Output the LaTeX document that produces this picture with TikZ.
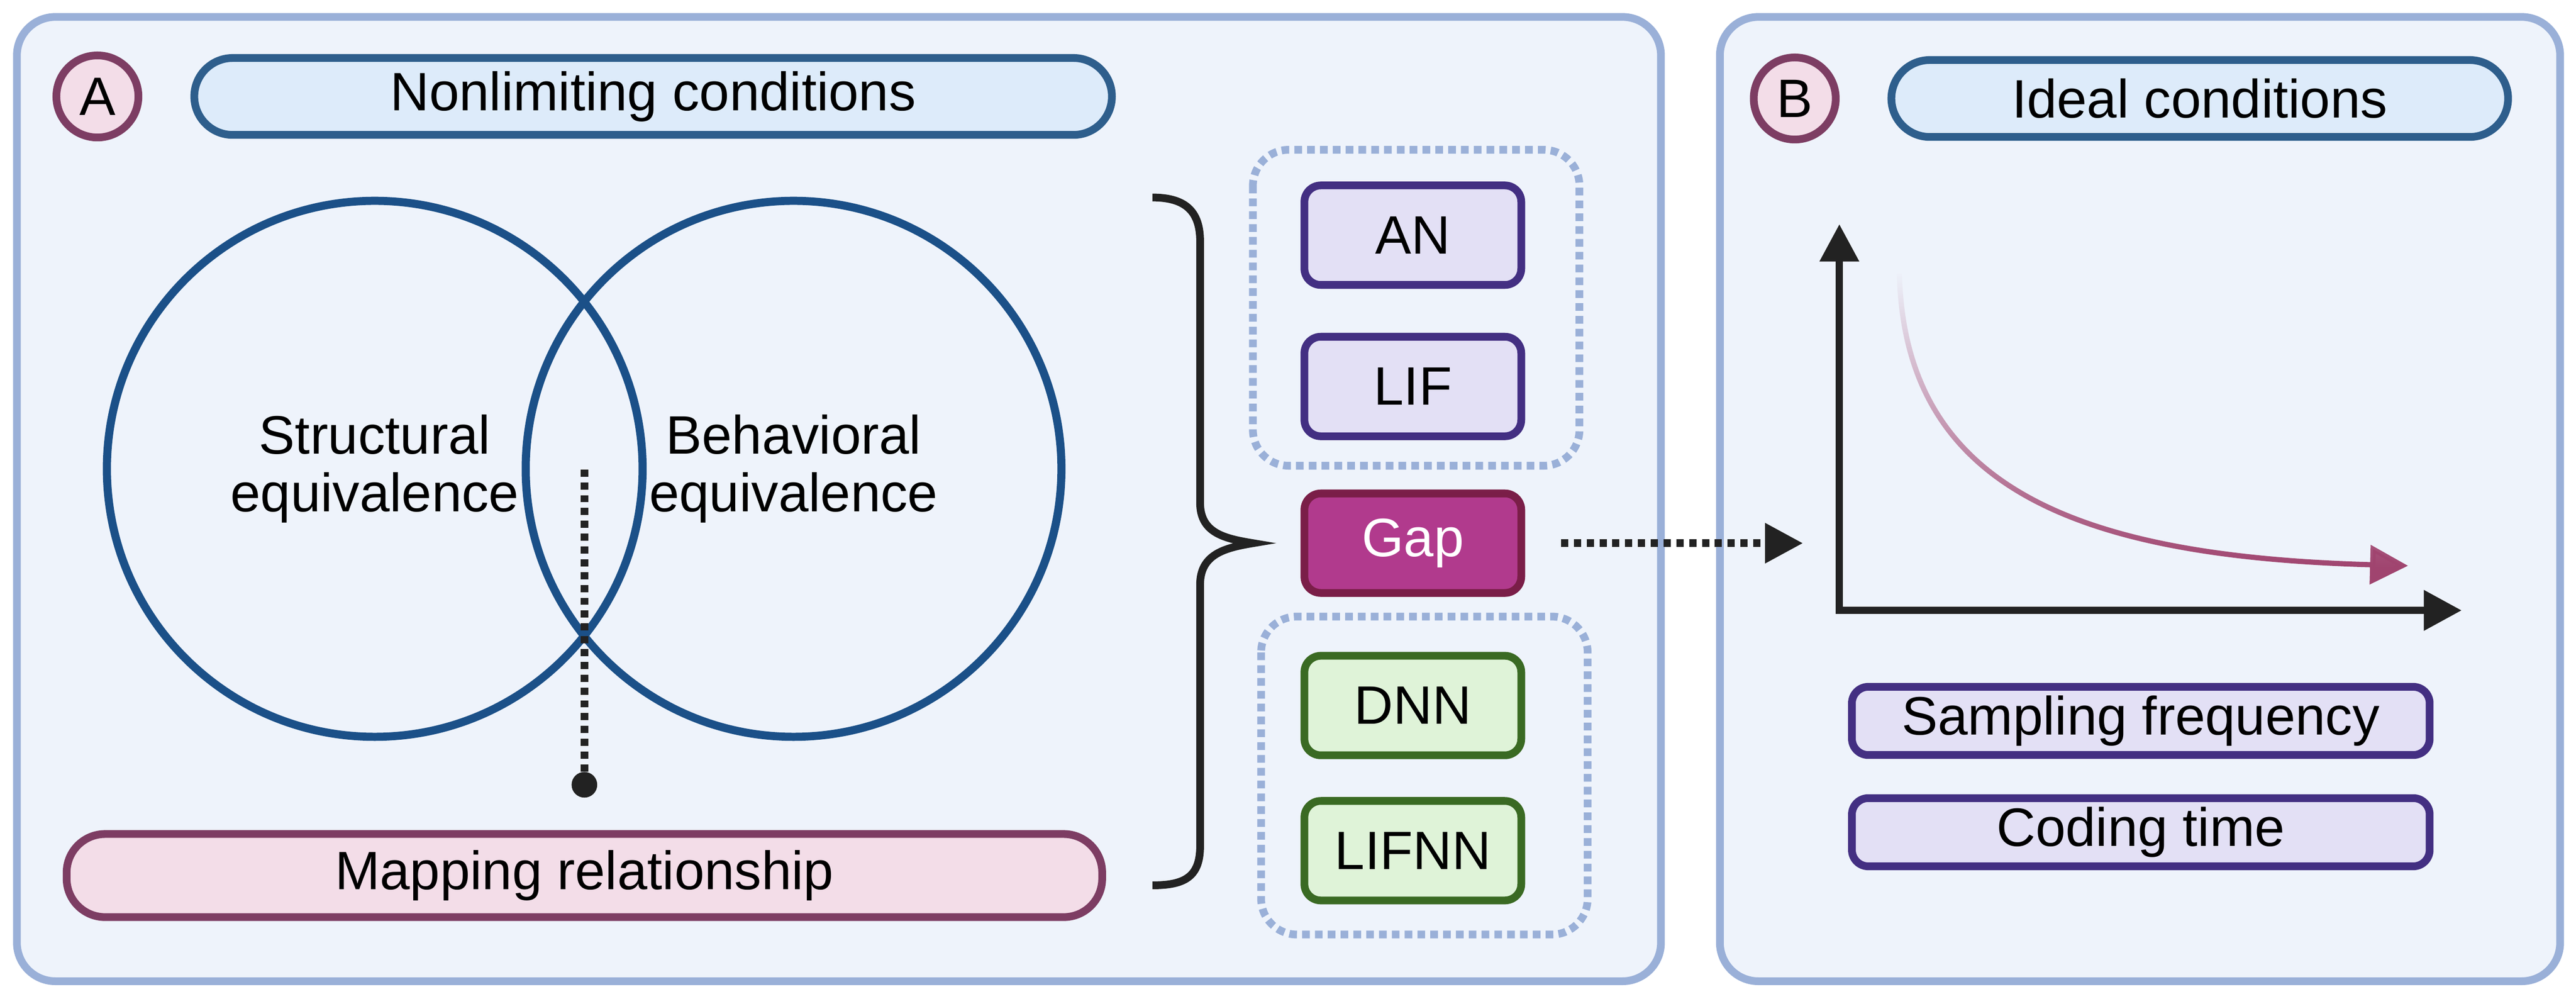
\documentclass[tikz,border=0pt]{standalone}
\usepackage{fontspec}
\setmainfont{Liberation Sans}
\usetikzlibrary{arrows.meta,positioning,fadings}
\definecolor{panelline}{HTML}{9AB0D8}
\definecolor{panelfill}{HTML}{EEF3FB}
\definecolor{pillblue}{HTML}{2E5E8C}
\definecolor{pillbluefill}{HTML}{DDEBFA}
\definecolor{vennblue}{HTML}{1B5088}
\definecolor{plum}{HTML}{7D3D63}
\definecolor{plumfill}{HTML}{F3DDE8}
\definecolor{boxviolet}{HTML}{432F82}
\definecolor{boxvioletfill}{HTML}{E3E0F5}
\definecolor{gapfill}{HTML}{B13A8D}
\definecolor{gapline}{HTML}{7A1E48}
\definecolor{netgreen}{HTML}{3A6A23}
\definecolor{netgreenfill}{HTML}{DFF3D8}
\definecolor{curvecol}{HTML}{A0446F}
\definecolor{ink}{HTML}{222222}
\tikzfading[name=curvefade, top color=transparent!100, middle color=transparent!45, bottom color=transparent!0]
\begin{document}
\begin{tikzpicture}[x=1cm, y=-1cm, font=\fontsize{30}{32}\selectfont,
	panel/.style={draw=panelline, fill=panelfill, line width=4.3pt, rounded corners=0.75cm},
	badge/.style={circle, draw=plum, fill=plumfill, line width=4.3pt, minimum size=1.6cm, inner sep=0pt},
	pill/.style={draw=pillblue, fill=pillbluefill, line width=4.3pt, rounded corners=0.75cm, minimum height=1.5cm},
	venn/.style={circle, draw=vennblue, line width=4.5pt, minimum size=10.45cm},
	nbox/.style={draw=boxviolet, fill=boxvioletfill, line width=4.3pt, rounded corners=0.32cm, minimum width=4.23cm, minimum height=1.94cm},
	netbox/.style={nbox, draw=netgreen, fill=netgreenfill},
	grp/.style={draw=panelline, line width=4.3pt, dash pattern=on 0.15cm off 0.10cm, rounded corners=0.7cm},
	dotline/.style={draw=ink, line width=4.3pt, dash pattern=on 0.14cm off 0.11cm},
	headtip/.style={-{Triangle[length=0.74cm,width=0.75cm]}},
	axis/.style={draw=ink, line width=4pt, {Triangle[length=0.73cm,width=0.74cm]}-{Triangle[length=0.74cm,width=0.76cm]}}
	]
	\useasboundingbox (0,0) rectangle (50.25,19.47);
	\draw[panel] (0.33,0.33) rectangle (32.40,19.13);
	\draw[panel] (33.55,0.33) rectangle (49.94,19.13);
	
	\node[badge] (badgeA) at (1.90,1.88) {A};
	\node[pill, minimum width=17.9cm] (nonlim) at (12.74,1.88) {Nonlimiting conditions};
	\node[venn] (structc) at (7.31,9.14) {};
	\node[venn] (behavc) at (15.48,9.14) {};
	\node[align=center] (structtext) at (structc) {Structural\\equivalence};
	\node[align=center] (behavtext) at (behavc) {Behavioral\\equivalence};
	\node[pill, draw=plum, fill=plumfill, minimum width=20.2cm, minimum height=1.62cm] (mapping) at (11.40,17.07) {Mapping relationship};
	\node[circle, fill=ink, minimum size=0.5cm, inner sep=0pt] (mapdot) at (11.40,15.30) {};
	\draw[dotline] (mapdot.north) -- (mapdot |- structc.center);
	
	\draw[ink, line width=4.3pt] (22.48,3.85) .. controls (23.10,3.85) and (23.41,4.10) .. (23.41,4.70) -- (23.41,9.80)
		.. controls (23.41,10.40) and (23.90,10.50) .. (24.44,10.59) .. controls (23.90,10.68) and (23.41,10.80) .. (23.41,11.40)
		-- (23.41,16.50) .. controls (23.41,17.10) and (23.10,17.26) .. (22.48,17.26);
	
	\draw[grp] (24.44,2.92) rectangle (30.81,9.08);
	\draw[grp] (24.60,12.02) rectangle (30.97,18.22);
	\node[nbox] (an) at (27.56,4.585) {AN};
	\node[nbox] (lif) at (27.56,7.535) {LIF};
	\node[nbox, draw=gapline, fill=gapfill, text=white] (gap) at (27.56,10.59) {Gap};
	\node[netbox] (dnn) at (27.56,13.755) {DNN};
	\node[netbox] (lifnn) at (27.56,16.585) {LIFNN};
	
	\node[badge] (badgeB) at (35.01,1.92) {B};
	\node[pill, minimum width=12.03cm] (ideal) at (42.91,1.92) {Ideal conditions};
	\coordinate (origin) at (35.88,11.90);
	\coordinate (gapend) at (35.17,10.59);
	\draw[dotline, headtip, shorten <=0.7cm] (gap) -- (gapend);
	\draw[axis] (35.88,4.37) -- (origin) -- (48.02,11.90);
	\draw[curvecol, line width=2.9pt, headtip, path fading=curvefade] (37.05,5.34) .. controls (37.15,9.50) and (40.50,10.85) .. (46.97,11.03);
	\node[nbox, minimum width=11.27cm, minimum height=1.33cm] (sampling) at (41.76,14.055) {Sampling frequency};
	\node[nbox, minimum width=11.27cm, minimum height=1.33cm] (coding) at (41.76,16.225) {Coding time};
	
\end{tikzpicture}
\end{document}
